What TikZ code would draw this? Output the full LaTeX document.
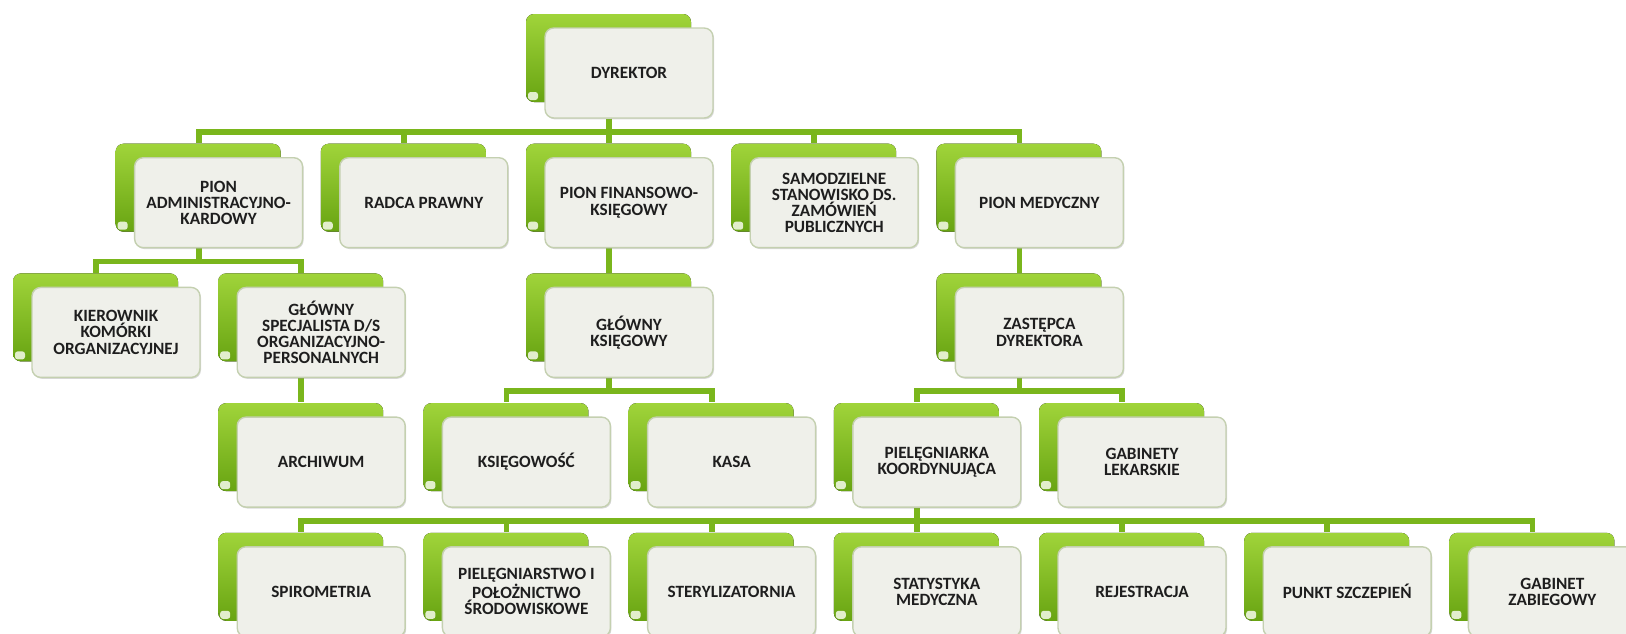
\documentclass[tikz,border=0pt]{standalone}
\usepackage{fontspec}
\setmainfont{Carlito}
\usetikzlibrary{shadows,backgrounds}
\definecolor{linkGreen}{RGB}{122,182,28}
\definecolor{tabTop}{RGB}{160,212,58}
\definecolor{tabBottom}{RGB}{104,164,18}
\definecolor{curlGreen}{RGB}{226,238,204}
\definecolor{boxFill}{RGB}{239,240,234}
\definecolor{boxEdge}{RGB}{196,208,176}
\definecolor{textDark}{RGB}{30,30,30}
\begin{document}
\begin{tikzpicture}
[x=0.02cm,y=-0.02cm,
  lineDecorate/.style={-,line width=3.3pt,draw=linkGreen},%
  tabDecorate/.style={rounded corners=4.5pt,top color=tabTop,bottom color=tabBottom},%
  curlDecorate/.style={rounded corners=1.5pt,fill=curlGreen},%
  nodeDecorate/.style={shape=rectangle,rounded corners=5pt,draw=boxEdge,line width=0.8pt,
    fill=boxFill,minimum width=3.36cm,minimum height=1.8cm,inner sep=2pt,
    align=center,text=textDark,font=\fontsize{9.8}{9.2}\selectfont\bfseries,
    drop shadow={opacity=0.3,shadow xshift=0.6pt,shadow yshift=-0.8pt}}]
\useasboundingbox (0,0) rectangle (1626,633);
\clip (0,0) rectangle (1626,633);
%% nodes: grid column k, row r
\foreach \nodename/\k/\r/\txt in {
  dyr/5/0/{DYREKTOR},
  adm/1/1/{PION\\ADMINISTRACYJNO-\\KARDOWY}, rad/3/1/{RADCA PRAWNY},
  fin/5/1/{PION FINANSOWO-\\KSIĘGOWY}, sam/7/1/{SAMODZIELNE\\STANOWISKO DS.\\ZAMÓWIEŃ\\PUBLICZNYCH},
  med/9/1/{PION MEDYCZNY},
  kie/0/2/{KIEROWNIK\\KOMÓRKI\\ORGANIZACYJNEJ}, spec/2/2/{GŁÓWNY\\SPECJALISTA D/S\\ORGANIZACYJNO-\\PERSONALNYCH},
  gks/5/2/{GŁÓWNY\\KSIĘGOWY}, zas/9/2/{ZASTĘPCA\\DYREKTORA},
  arch/2/3/{ARCHIWUM}, ksi/4/3/{KSIĘGOWOŚĆ}, kasa/6/3/{KASA},
  piel/8/3/{PIELĘGNIARKA\\KOORDYNUJĄCA}, gab/10/3/{GABINETY\\LEKARSKIE},
  spi/2/4/{SPIROMETRIA}, pol/4/4/{PIELĘGNIARSTWO I\\POŁOŻNICTWO\\ŚRODOWISKOWE},
  ste/6/4/{STERYLIZATORNIA}, sta/8/4/{STATYSTYKA\\MEDYCZNA}, rej/10/4/{REJESTRACJA},
  pun/12/4/{PUNKT SZCZEPIEŃ}, zab/14/4/{GABINET\\ZABIEGOWY}}
{
  \pgfmathsetmacro{\cx}{116+102.6*\k}
  \pgfmathsetmacro{\cy}{73+129.7*\r}
  \fill[tabDecorate] (\cx-103,\cy-59) rectangle (\cx+62,\cy+29);
  \fill[curlDecorate] (\cx-101,\cy+19) rectangle (\cx-91,\cy+27);
  \node (\nodename) at (\cx,\cy) [nodeDecorate] {\txt};
}
%% edges
\begin{pgfonlayer}{background}
\foreach \startnode/\endnode in {
  dyr/adm, dyr/rad, dyr/fin, dyr/sam, dyr/med,
  adm/kie, adm/spec, spec/arch, fin/gks, med/zas,
  gks/ksi, gks/kasa, zas/piel, zas/gab,
  piel/spi, piel/pol, piel/ste, piel/sta, piel/rej, piel/pun, piel/zab}
{
  \draw[lineDecorate] ([xshift=-0.4cm]\startnode.south) -- ++(0,13)
    -| ([shift={(-0.4cm,0.28cm)}]\endnode.north);
}
\end{pgfonlayer}
\end{tikzpicture}
\end{document}
